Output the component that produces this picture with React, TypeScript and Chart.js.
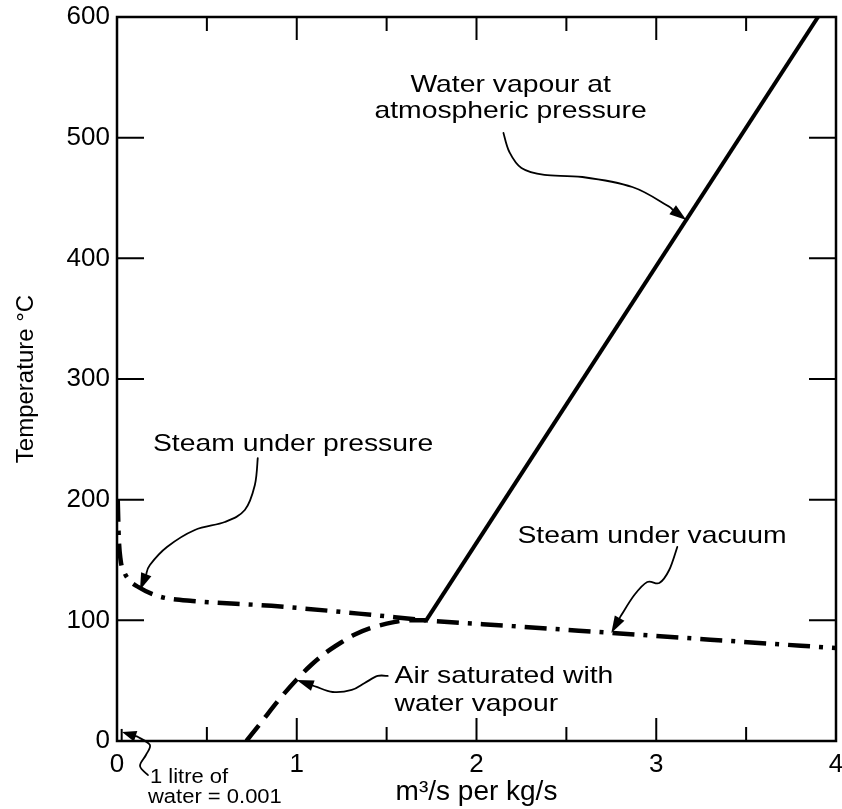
import React, { useEffect, useRef } from 'react';
import { Chart, registerables } from 'chart.js';

Chart.register(...registerables);

// ---------- data ----------
const xMin = 0;
const xMax = 4;
const yMin = 0;
const yMax = 600;
const xStep = 0.5;
const yStep = 100;

const vapourX = [1.72, 3.9];
const vapourY = [100, 600];

const steamX = [0.004, 0.01, 0.02, 0.04, 0.07, 0.12, 0.2, 0.27, 0.42, 0.86, 1.42, 1.72, 2.2, 2.75, 3.3, 4.0];
const steamY = [200, 168, 150, 140, 133, 127.5, 121.5, 118.5, 116, 112, 104.5, 100, 95.2, 89.6, 84, 77];

const airX = [0.72, 0.8, 0.9, 1.0, 1.08, 1.16, 1.24, 1.32, 1.42, 1.54, 1.62, 1.72];
const airY = [0, 15, 34, 51, 63, 73, 81, 88, 94, 98.5, 100, 100];

const waterMarkX = [0.026, 0.026];
const waterMarkY = [0, 10];

const xTitle = 'm³/s per kg/s';
const yTitle = 'Temperature °C';

// annotation texts (data coordinates)
const noteWaterLines = ['Water vapour at', 'atmospheric pressure'];
const noteWaterX = 2.19;
const noteWaterY = [538, 516.5];

const notePressureLines = ['Steam under pressure'];
const notePressureX = 0.2;
const notePressureY = [240.3];

const noteVacuumLines = ['Steam under vacuum'];
const noteVacuumX = 2.228;
const noteVacuumY = [164.1];

const noteAirLines = ['Air saturated with', 'water vapour'];
const noteAirX = 1.544;
const noteAirY = [48.1, 24.9];

const noteLitreLines = ['1 litre of', 'water = 0.001'];
const noteLitreX = [0.183, 0.172];
const noteLitreY = [-34.8, -51.4];

// annotation arrows (data coordinates, tail -> tip)
const arrowWaterX = [2.15, 2.183, 2.25, 2.378, 2.589, 2.867, 3.056, 3.167];
const arrowWaterY = [503.9, 488.1, 474.9, 469.1, 467.4, 459.1, 444.2, 431.8];
const arrowPressureX = [0.783, 0.767, 0.711, 0.6, 0.433, 0.278, 0.183, 0.128];
const arrowPressureY = [234.5, 212.2, 191.4, 181.5, 174.9, 160.8, 145.9, 125.1];
const arrowVacuumX = [3.117, 3.072, 3.017, 2.95, 2.878, 2.806, 2.75];
const arrowVacuumY = [160.8, 141.7, 130.9, 131.8, 121.0, 104.4, 89.5];
const arrowAirX = [1.506, 1.45, 1.378, 1.306, 1.2, 1.111, 1.0];
const arrowAirY = [53.9, 53.9, 48.1, 42.3, 40.6, 44.8, 50.6];
const arrowLitreX = [0.172, 0.128, 0.161, 0.183, 0.117, 0.028];
const arrowLitreY = [-28.2, -20.7, -11.6, -3.3, 3.3, 7.5];

const FONT = '"Liberation Sans", Arial, Helvetica, sans-serif';

const toPts = (xs: number[], ys: number[]) => xs.map((x, i) => ({ x, y: ys[i] }));

function drawText(ctx: CanvasRenderingContext2D, text: string, px: number, py: number, size: number, align: string, stretch: number) {
  ctx.save();
  ctx.font = `${size}px ${FONT}`;
  ctx.textBaseline = 'alphabetic';
  ctx.textAlign = 'left';
  ctx.fillStyle = '#000';
  const w = ctx.measureText(text).width * stretch;
  const x0 = align === 'center' ? px - w / 2 : px;
  ctx.translate(x0, py);
  ctx.scale(stretch, 1);
  ctx.fillText(text, 0, 0);
  ctx.restore();
}

function drawArrow(ctx: CanvasRenderingContext2D, pts: number[][]) {
  ctx.save();
  ctx.lineWidth = 1.8;
  ctx.strokeStyle = '#000';
  ctx.fillStyle = '#000';
  ctx.lineCap = 'round';
  const n = pts.length;
  const tip = pts[n - 1];
  const prev = pts[n - 2];
  let dx = tip[0] - prev[0];
  let dy = tip[1] - prev[1];
  const len = Math.hypot(dx, dy);
  dx /= len;
  dy /= len;
  const headLen = Math.min(17, len * 0.85);
  const headW = 5.5;
  const base = [tip[0] - dx * headLen, tip[1] - dy * headLen];
  const p = pts.slice(0, n - 1).concat([base]);
  ctx.beginPath();
  ctx.moveTo(p[0][0], p[0][1]);
  for (let i = 0; i < p.length - 1; i++) {
    const p0 = p[i - 1] || p[i];
    const p1 = p[i];
    const p2 = p[i + 1];
    const p3 = p[i + 2] || p2;
    ctx.bezierCurveTo(
      p1[0] + (p2[0] - p0[0]) / 6, p1[1] + (p2[1] - p0[1]) / 6,
      p2[0] - (p3[0] - p1[0]) / 6, p2[1] - (p3[1] - p1[1]) / 6,
      p2[0], p2[1]
    );
  }
  ctx.stroke();
  ctx.beginPath();
  ctx.moveTo(tip[0], tip[1]);
  ctx.lineTo(base[0] - dy * headW, base[1] + dx * headW);
  ctx.lineTo(base[0] + dy * headW, base[1] - dx * headW);
  ctx.closePath();
  ctx.fill();
  ctx.restore();
}

const framePlugin = {
  id: 'frameAndNotes',
  afterDatasetsDraw(chart: any) {
    const ctx: CanvasRenderingContext2D = chart.ctx;
    const xs = chart.scales.x;
    const ys = chart.scales.y;
    const { left, right, top, bottom } = chart.chartArea;
    ctx.save();
    // frame
    ctx.strokeStyle = '#000';
    ctx.lineWidth = 2.5;
    ctx.strokeRect(left, top, right - left, bottom - top);
    // inner ticks
    ctx.lineWidth = 2;
    ctx.beginPath();
    for (let v = xMin; v <= xMax + 1e-9; v += xStep) {
      const px = xs.getPixelForValue(v);
      const major = Math.abs(v - Math.round(v)) < 1e-9;
      const L = major ? 23 : 14;
      ctx.moveTo(px, bottom);
      ctx.lineTo(px, bottom - L);
      ctx.moveTo(px, top);
      ctx.lineTo(px, top + L);
    }
    for (let v = yMin; v <= yMax + 1e-9; v += yStep) {
      const py = ys.getPixelForValue(v);
      ctx.moveTo(left, py);
      ctx.lineTo(left + 27, py);
      ctx.moveTo(right, py);
      ctx.lineTo(right - 27, py);
    }
    ctx.stroke();
    ctx.restore();

    const P = (x: number, y: number) => [xs.getPixelForValue(x), ys.getPixelForValue(y)];
    const size = 24;
    const st = 1.18;
    noteWaterLines.forEach((t, i) => {
      const [px, py] = P(noteWaterX, noteWaterY[i]);
      drawText(ctx, t, px, py, size, 'center', st);
    });
    notePressureLines.forEach((t, i) => {
      const [px, py] = P(notePressureX, notePressureY[i]);
      drawText(ctx, t, px, py, size, 'left', st);
    });
    noteVacuumLines.forEach((t, i) => {
      const [px, py] = P(noteVacuumX, noteVacuumY[i]);
      drawText(ctx, t, px, py, size, 'left', st);
    });
    noteAirLines.forEach((t, i) => {
      const [px, py] = P(noteAirX, noteAirY[i]);
      drawText(ctx, t, px, py, size, 'left', st);
    });
    noteLitreLines.forEach((t, i) => {
      const [px, py] = P(noteLitreX[i], noteLitreY[i]);
      drawText(ctx, t, px, py, 20, 'left', 1.1);
    });

    const arrows = [
      [arrowWaterX, arrowWaterY],
      [arrowPressureX, arrowPressureY],
      [arrowVacuumX, arrowVacuumY],
      [arrowAirX, arrowAirY],
      [arrowLitreX, arrowLitreY],
    ];
    arrows.forEach(([ax, ay]) => {
      drawArrow(ctx, ax.map((x, i) => P(x, ay[i])));
    });
  },
};

export default function App() {
  const ref = useRef<HTMLCanvasElement | null>(null);
  useEffect(() => {
    if (!ref.current) return;
    const tickFont = { family: FONT, size: 26 };
    const chart = new Chart(ref.current, {
      type: 'scatter',
      data: {
        datasets: [
          {
            label: 'Water vapour at atmospheric pressure',
            data: toPts(vapourX, vapourY),
            showLine: true,
            borderColor: '#000',
            borderWidth: 4,
            pointRadius: 0,
            fill: false,
          },
          {
            label: 'Steam',
            data: toPts(steamX, steamY),
            showLine: true,
            borderColor: '#000',
            borderWidth: 4.5,
            borderDash: [22, 9, 4, 9],
            borderCapStyle: 'butt',
            cubicInterpolationMode: 'monotone',
            pointRadius: 0,
            fill: false,
          },
          {
            label: 'Air saturated with water vapour',
            data: toPts(airX, airY),
            showLine: true,
            borderColor: '#000',
            borderWidth: 4.5,
            borderDash: [20, 10],
            borderCapStyle: 'butt',
            cubicInterpolationMode: 'monotone',
            pointRadius: 0,
            fill: false,
          },
          {
            label: '1 litre of water',
            data: toPts(waterMarkX, waterMarkY),
            showLine: true,
            borderColor: '#000',
            borderWidth: 2,
            pointRadius: 0,
            fill: false,
          },
        ],
      },
      options: {
        animation: false,
        responsive: true,
        maintainAspectRatio: false,
        layout: { padding: { top: 17, right: 6, left: 0, bottom: 0 } },
        plugins: {
          legend: { display: false },
          tooltip: { enabled: false },
        },
        scales: {
          x: {
            type: 'linear',
            min: xMin,
            max: xMax,
            afterFit: (s: any) => { s.height = 68; s.paddingLeft = 0; s.paddingRight = 0; },
            grid: { display: false, drawTicks: false },
            border: { display: false },
            ticks: {
              stepSize: xStep,
              autoSkip: false,
              maxRotation: 0,
              padding: 8,
              color: '#000',
              font: tickFont,
              callback: (v: any) => (Math.abs(v - Math.round(v)) < 1e-9 ? String(Math.round(v)) : ''),
            },
            title: {
              display: true,
              text: xTitle,
              color: '#000',
              font: { family: FONT, size: 28 },
              padding: 0,
            },
          },
          y: {
            type: 'linear',
            min: yMin,
            max: yMax,
            afterFit: (s: any) => { s.width = 117; s.paddingTop = 0; s.paddingBottom = 0; },
            grid: { display: false, drawTicks: false },
            border: { display: false },
            ticks: {
              stepSize: yStep,
              padding: 7,
              color: '#000',
              font: tickFont,
            },
            title: {
              display: true,
              text: yTitle,
              color: '#000',
              font: { family: FONT, size: 24 },
              padding: { top: 12, bottom: 0 },
            },
          },
        },
      },
      plugins: [framePlugin],
    } as any);
    return () => chart.destroy();
  }, []);
  return (
    <div style={{ position: 'fixed', left: 0, top: 0, width: 842, height: 809, background: '#fff' }}>
      <canvas ref={ref} />
    </div>
  );
}
